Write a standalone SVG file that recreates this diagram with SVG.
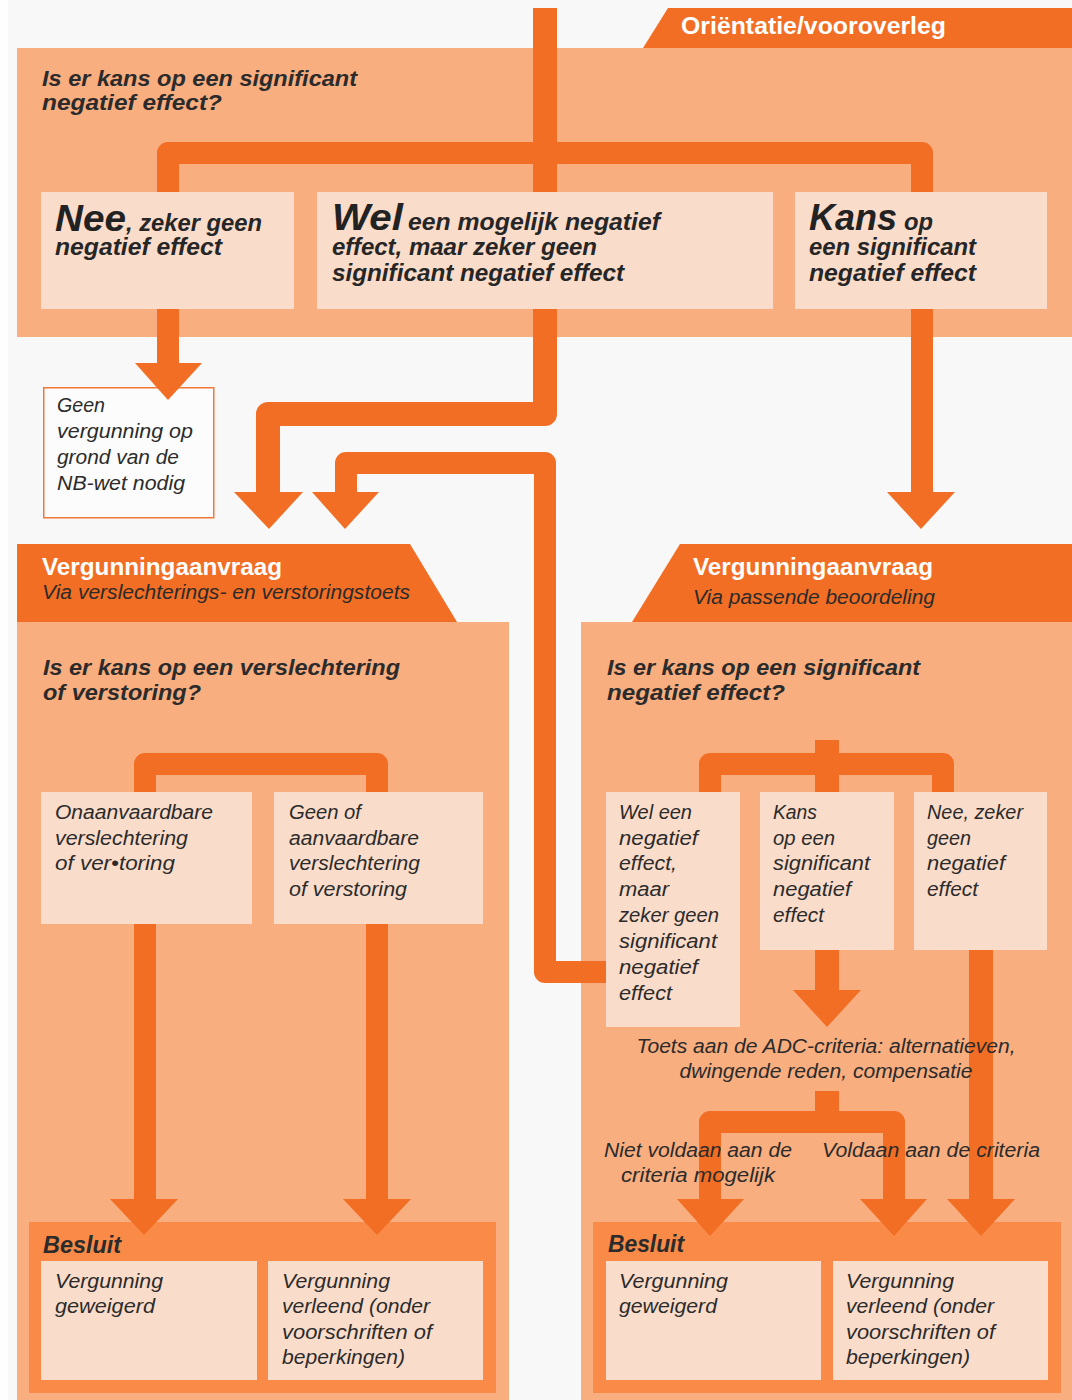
<svg xmlns="http://www.w3.org/2000/svg" width="1072" height="1400" viewBox="0 0 1072 1400">
<style>
.peach{fill:#f9ae80}
.box{fill:#fadcca}
.org{fill:#f26e24}
.bes{fill:#f98a47}
.ln{fill:none;stroke:#f26e24;stroke-linejoin:round}
.q{font-family:"Liberation Sans",Arial,sans-serif;font-style:italic;font-weight:bold;font-size:22px;fill:#2b2b2b}
.tb{font-family:"Liberation Sans",Arial,sans-serif;font-style:italic;font-weight:bold;font-size:24px;fill:#262626}
.big{font-family:"Liberation Sans",Arial,sans-serif;font-style:italic;font-weight:bold;font-size:37px;fill:#222}
.t{font-family:"Liberation Sans",Arial,sans-serif;font-style:italic;font-size:20px;fill:#2b2b2b}
.hd{font-family:"Liberation Sans",Arial,sans-serif;font-weight:bold;font-size:23px;fill:#fff}
.sub{font-family:"Liberation Sans",Arial,sans-serif;font-style:italic;font-size:20px;fill:#2b2b2b}
.bs{font-family:"Liberation Sans",Arial,sans-serif;font-style:italic;font-weight:bold;font-size:24px;fill:#2b2b2b}
</style>
<rect x="0" y="0" width="1072" height="1400" fill="#f8f8f8"/>
<rect x="0" y="0" width="8" height="1400" fill="#fefefe"/>

<g id="orientatie">
<rect class="peach" x="17" y="48" width="1055" height="289"/>
<polygon class="org" points="668,8 1072,8 1072,48 643,48"/>
<text class="hd" x="681" y="34" font-size="21" textLength="265" lengthAdjust="spacingAndGlyphs">Oriëntatie/vooroverleg</text>
<text class="q" x="42" y="86" textLength="315" lengthAdjust="spacingAndGlyphs">Is er kans op een significant</text>
<text class="q" x="42" y="110" textLength="180" lengthAdjust="spacingAndGlyphs">negatief effect?</text>
</g>

<g id="nee-top">
<rect class="box" x="41" y="192" width="253" height="117"/>
<text class="big" x="55" y="231" textLength="71" lengthAdjust="spacingAndGlyphs">Nee</text>
<text class="tb" x="126" y="231" textLength="136" lengthAdjust="spacingAndGlyphs">, zeker geen</text>
<text class="tb" x="55" y="255" textLength="167" lengthAdjust="spacingAndGlyphs">negatief effect</text>
</g>

<g id="wel-top">
<rect class="box" x="317" y="192" width="456" height="117"/>
<text class="big" x="332" y="230" textLength="71" lengthAdjust="spacingAndGlyphs">Wel</text>
<text class="tb" x="408" y="230" textLength="252" lengthAdjust="spacingAndGlyphs">een mogelijk negatief</text>
<text class="tb" x="332" y="255" textLength="265" lengthAdjust="spacingAndGlyphs">effect, maar zeker geen</text>
<text class="tb" x="332" y="281" textLength="292" lengthAdjust="spacingAndGlyphs">significant negatief effect</text>
</g>

<g id="kans-top">
<rect class="box" x="795" y="192" width="252" height="117"/>
<text class="big" x="809" y="230" textLength="88" lengthAdjust="spacingAndGlyphs">Kans</text>
<text class="tb" x="904" y="230" textLength="29" lengthAdjust="spacingAndGlyphs">op</text>
<text class="tb" x="809" y="255" textLength="167" lengthAdjust="spacingAndGlyphs">een significant</text>
<text class="tb" x="809" y="281" textLength="167" lengthAdjust="spacingAndGlyphs">negatief effect</text>
</g>

<g id="geen-vergunning">
<rect x="43.75" y="387.75" width="170" height="130" fill="#fcfcfc" stroke="#f2783a" stroke-width="1.5"/>
<text class="t" x="57" y="412" textLength="48" lengthAdjust="spacingAndGlyphs">Geen</text>
<text class="t" x="57" y="438" textLength="136" lengthAdjust="spacingAndGlyphs">vergunning op</text>
<text class="t" x="57" y="464" textLength="122" lengthAdjust="spacingAndGlyphs">grond van de</text>
<text class="t" x="57" y="490" textLength="128" lengthAdjust="spacingAndGlyphs">NB-wet nodig</text>
</g>

<g id="aanvraag-links">
<polygon class="org" points="17,544 410,544 457,622 17,622"/>
<rect class="peach" x="17" y="622" width="492" height="778"/>
<text class="hd" x="42" y="575" textLength="240" lengthAdjust="spacingAndGlyphs">Vergunningaanvraag</text>
<text class="sub" x="42" y="599" textLength="368" lengthAdjust="spacingAndGlyphs">Via verslechterings- en verstoringstoets</text>
<text class="q" x="43" y="675" textLength="357" lengthAdjust="spacingAndGlyphs">Is er kans op een verslechtering</text>
<text class="q" x="43" y="700" textLength="158" lengthAdjust="spacingAndGlyphs">of verstoring?</text>
</g>

<g id="aanvraag-rechts">
<polygon class="org" points="680,544 1072,544 1072,622 632,622"/>
<rect class="peach" x="581" y="622" width="491" height="778"/>
<text class="hd" x="693" y="575" textLength="240" lengthAdjust="spacingAndGlyphs">Vergunningaanvraag</text>
<text class="sub" x="693" y="604" textLength="242" lengthAdjust="spacingAndGlyphs">Via passende beoordeling</text>
<text class="q" x="607" y="675" textLength="313" lengthAdjust="spacingAndGlyphs">Is er kans op een significant</text>
<text class="q" x="607" y="700" textLength="178" lengthAdjust="spacingAndGlyphs">negatief effect?</text>
</g>

<g id="onaanvaardbaar">
<rect class="box" x="41" y="792" width="211" height="132"/>
<text class="t" x="55" y="819" textLength="158" lengthAdjust="spacingAndGlyphs">Onaanvaardbare</text>
<text class="t" x="55" y="845" textLength="133" lengthAdjust="spacingAndGlyphs">verslechtering</text>
<text class="t" x="55" y="870" textLength="120" lengthAdjust="spacingAndGlyphs">of ver•toring</text>
</g>

<g id="aanvaardbaar">
<rect class="box" x="274" y="792" width="209" height="132"/>
<text class="t" x="289" y="819" textLength="72" lengthAdjust="spacingAndGlyphs">Geen of</text>
<text class="t" x="289" y="845" textLength="130" lengthAdjust="spacingAndGlyphs">aanvaardbare</text>
<text class="t" x="289" y="870" textLength="131" lengthAdjust="spacingAndGlyphs">verslechtering</text>
<text class="t" x="289" y="896" textLength="118" lengthAdjust="spacingAndGlyphs">of verstoring</text>
</g>

<g id="besluit-links">
<rect class="bes" x="29" y="1222" width="467" height="171"/>
<text class="bs" x="43" y="1253" textLength="78" lengthAdjust="spacingAndGlyphs">Besluit</text>
<rect class="box" x="41" y="1261" width="216" height="119"/>
<text class="t" x="55" y="1288" textLength="108" lengthAdjust="spacingAndGlyphs">Vergunning</text>
<text class="t" x="55" y="1313" textLength="100" lengthAdjust="spacingAndGlyphs">geweigerd</text>
<rect class="box" x="268" y="1261" width="215" height="119"/>
<text class="t" x="282" y="1288" textLength="108" lengthAdjust="spacingAndGlyphs">Vergunning</text>
<text class="t" x="282" y="1313" textLength="148" lengthAdjust="spacingAndGlyphs">verleend (onder</text>
<text class="t" x="282" y="1339" textLength="150" lengthAdjust="spacingAndGlyphs">voorschriften of</text>
<text class="t" x="282" y="1364" textLength="123" lengthAdjust="spacingAndGlyphs">beperkingen)</text>
</g>

<g id="wel-rechts">
<rect class="box" x="606" y="792" width="134" height="235"/>
<text class="t" x="619" y="819" textLength="73" lengthAdjust="spacingAndGlyphs">Wel een</text>
<text class="t" x="619" y="845" textLength="79" lengthAdjust="spacingAndGlyphs">negatief</text>
<text class="t" x="619" y="870" textLength="58" lengthAdjust="spacingAndGlyphs">effect,</text>
<text class="t" x="619" y="896" textLength="50" lengthAdjust="spacingAndGlyphs">maar</text>
<text class="t" x="619" y="922" textLength="100" lengthAdjust="spacingAndGlyphs">zeker geen</text>
<text class="t" x="619" y="948" textLength="98" lengthAdjust="spacingAndGlyphs">significant</text>
<text class="t" x="619" y="974" textLength="79" lengthAdjust="spacingAndGlyphs">negatief</text>
<text class="t" x="619" y="1000" textLength="53" lengthAdjust="spacingAndGlyphs">effect</text>
</g>

<g id="kans-rechts">
<rect class="box" x="760" y="792" width="134" height="158"/>
<text class="t" x="773" y="819" textLength="44" lengthAdjust="spacingAndGlyphs">Kans</text>
<text class="t" x="773" y="845" textLength="62" lengthAdjust="spacingAndGlyphs">op een</text>
<text class="t" x="773" y="870" textLength="97" lengthAdjust="spacingAndGlyphs">significant</text>
<text class="t" x="773" y="896" textLength="78" lengthAdjust="spacingAndGlyphs">negatief</text>
<text class="t" x="773" y="922" textLength="51" lengthAdjust="spacingAndGlyphs">effect</text>
</g>

<g id="nee-rechts">
<rect class="box" x="914" y="792" width="133" height="158"/>
<text class="t" x="927" y="819" textLength="96" lengthAdjust="spacingAndGlyphs">Nee, zeker</text>
<text class="t" x="927" y="845" textLength="44" lengthAdjust="spacingAndGlyphs">geen</text>
<text class="t" x="927" y="870" textLength="78" lengthAdjust="spacingAndGlyphs">negatief</text>
<text class="t" x="927" y="896" textLength="51" lengthAdjust="spacingAndGlyphs">effect</text>
</g>

<g id="besluit-rechts">
<rect class="bes" x="593" y="1222" width="468" height="171"/>
<text class="bs" x="608" y="1252" textLength="76" lengthAdjust="spacingAndGlyphs">Besluit</text>
<rect class="box" x="606" y="1261" width="215" height="119"/>
<text class="t" x="619" y="1288" textLength="109" lengthAdjust="spacingAndGlyphs">Vergunning</text>
<text class="t" x="619" y="1313" textLength="98" lengthAdjust="spacingAndGlyphs">geweigerd</text>
<rect class="box" x="833" y="1261" width="215" height="119"/>
<text class="t" x="846" y="1288" textLength="108" lengthAdjust="spacingAndGlyphs">Vergunning</text>
<text class="t" x="846" y="1313" textLength="148" lengthAdjust="spacingAndGlyphs">verleend (onder</text>
<text class="t" x="846" y="1339" textLength="149" lengthAdjust="spacingAndGlyphs">voorschriften of</text>
<text class="t" x="846" y="1364" textLength="124" lengthAdjust="spacingAndGlyphs">beperkingen)</text>
</g>

<g id="connectors">
<path class="ln" stroke-width="24" d="M545,8 V192"/>
<path class="ln" stroke-width="22" d="M168,192 V153 H922 V192"/>
<path class="ln" stroke-width="22" d="M168,309 V365"/>
<polygon class="org" points="135,363 202,363 168,400"/>
<path class="ln" stroke-width="24" d="M545,309 V414 H268 V494"/>
<polygon class="org" points="234,492 303,492 269,529"/>
<path class="ln" stroke-width="22" d="M922,309 V494"/>
<polygon class="org" points="887,492 955,492 921,529"/>
<path class="ln" stroke-width="22" d="M606,972 H545 V463 H346 V494"/>
<polygon class="org" points="312,492 379,492 345,529"/>
<path class="ln" stroke-width="22" d="M145,792 V764 H377 V792"/>
<path class="ln" stroke-width="22" d="M145,924 V1201"/>
<polygon class="org" points="110,1199 178,1199 144,1235"/>
<path class="ln" stroke-width="22" d="M377,924 V1201"/>
<polygon class="org" points="343,1199 411,1199 377,1235"/>
<path class="ln" stroke-width="24" d="M827,740 V792"/>
<path class="ln" stroke-width="22" d="M710,792 V764 H943 V792"/>
<path class="ln" stroke-width="24" d="M827,950 V992"/>
<polygon class="org" points="793,990 861,990 827,1027"/>
<path class="ln" stroke-width="24" d="M981,950 V1201"/>
<polygon class="org" points="947,1199 1015,1199 981,1236"/>
<path class="ln" stroke-width="24" d="M827,1091 V1122"/>
<path class="ln" stroke-width="22" d="M710,1201 V1122 H894 V1201"/>
<polygon class="org" points="677,1199 744,1199 710,1236"/>
<polygon class="org" points="860,1199 927,1199 894,1236"/>
</g>

<g id="labels">
<text class="t" x="826" y="1053" text-anchor="middle" textLength="379" lengthAdjust="spacingAndGlyphs">Toets aan de ADC-criteria: alternatieven,</text>
<text class="t" x="826" y="1078" text-anchor="middle" textLength="293" lengthAdjust="spacingAndGlyphs">dwingende reden, compensatie</text>
<text class="t" x="604" y="1157" textLength="188" lengthAdjust="spacingAndGlyphs">Niet voldaan aan de</text>
<text class="t" x="621" y="1182" textLength="154" lengthAdjust="spacingAndGlyphs">criteria mogelijk</text>
<text class="t" x="822" y="1157" textLength="218" lengthAdjust="spacingAndGlyphs">Voldaan aan de criteria</text>
</g>
</svg>
